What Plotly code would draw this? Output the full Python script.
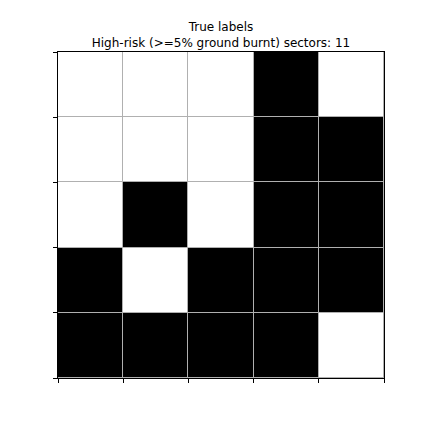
import plotly.graph_objects as go

# grid of labels, top row first (1 = high-risk / black)
labels = [
    [0, 0, 0, 1, 0],
    [0, 0, 0, 1, 1],
    [0, 1, 0, 1, 1],
    [1, 0, 1, 1, 1],
    [1, 1, 1, 1, 0],
]
cols = [0, 1, 2, 3, 4]
rows = [0, 1, 2, 3, 4]
tick_pos = [-0.5, 0.5, 1.5, 2.5, 3.5, 4.5]
title_lines = ["True labels", "High-risk (>=5% ground burnt) sectors: 11"]

fig = go.Figure(go.Heatmap(
    z=labels, x=cols, y=rows,
    colorscale=[[0, "white"], [1, "black"]],
    zmin=0, zmax=1, showscale=False, xgap=1, ygap=1,
    hoverinfo="skip",
))

axis_common = dict(
    tickmode="array", tickvals=tick_pos, ticktext=[""] * len(tick_pos),
    ticks="outside", ticklen=4, tickwidth=1, tickcolor="black",
    showgrid=False, zeroline=False, showline=True, linecolor="black",
    linewidth=1, mirror=True, range=[-0.5, 4.5],
)
fig.update_xaxes(**axis_common)
fig.update_yaxes(**axis_common)
fig.update_yaxes(range=[4.5, -0.5])

fig.update_layout(
    width=432, height=432,
    margin=dict(l=58, r=48, t=52, b=54),
    plot_bgcolor="#b0b0b0", paper_bgcolor="white",
    font=dict(family="DejaVu Sans", size=12, color="black"),
    title=dict(text="<br>".join(title_lines), x=221 / 432, xanchor="center",
               y=1 - 31 / 432, yanchor="top", font=dict(size=12)),
)
fig.write_html("out.html")
